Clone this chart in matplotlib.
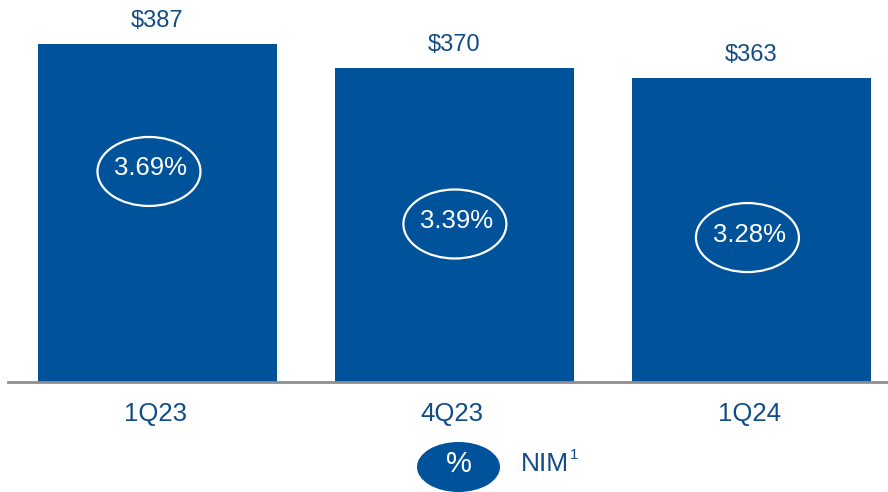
import matplotlib
matplotlib.use("Agg")
import matplotlib.pyplot as plt
from matplotlib.patches import Ellipse

plt.rcParams['font.family'] = ['Liberation Sans', 'DejaVu Sans']

# Net interest income ($M) and net interest margin by quarter
quarters = ["1Q23", "4Q23", "1Q24"]
nii = [387, 370, 363]
nim = [3.69, 3.39, 3.28]

# vertical placement of the NIM badges (data units) and small x nudges
badge_y = [296.7, 259.5, 249.9]
badge_dx = [-0.027, 0.003, -0.012]

BAR = "#00529B"
TEXT = "#124C86"
AXIS = "#8E8E8E"

W, H = 888, 492
fig = plt.figure(figsize=(W / 100, H / 100), dpi=100)
fig.patch.set_facecolor("white")

base_px = 382
ax = fig.add_axes([8 / W, (H - base_px) / H, 1 - 8 / W, base_px / H])
x = list(range(len(quarters)))
ax.bar(x, nii, width=239 / 297, color=BAR, zorder=2)

ymin = 147.6
ax.set_ylim(ymin, ymin + base_px / 1.412)
ax.set_xlim(-149 / 297, 2 + 137 / 297)

for s in ["top", "right", "left"]:
    ax.spines[s].set_visible(False)
ax.spines["bottom"].set_color(AXIS)
ax.spines["bottom"].set_linewidth(2)
ax.spines["bottom"].set_zorder(3)
ax.set_xticks([])
ax.set_yticks([])

for i, (q, v, p) in enumerate(zip(quarters, nii, nim)):
    ax.annotate(f"${v}", xy=(i, v), xytext=(0, 23 * 0.72), textcoords="offset points",
                ha="center", va="center", fontsize=17, color=TEXT)
    ax.annotate(q, xy=(i, 0), xycoords=("data", "axes fraction"),
                xytext=(-2 * 0.72, -32 * 0.72), textcoords="offset points",
                ha="center", va="center", fontsize=18.5, color=TEXT)
    cx = i + badge_dx[i]
    ax.add_patch(Ellipse((cx, badge_y[i]), 103 / 297, 69 / 1.412, facecolor="none",
                         edgecolor="white", linewidth=1.6, zorder=4))
    ax.text(cx + 2 / 297, badge_y[i] + 3 / 1.412, f"{p:.2f}%", ha="center", va="center",
            fontsize=18.5, color="white", zorder=5)

# legend row below the axis, laid out in pixel coordinates
lax = fig.add_axes([0, 0, 1, 1])
lax.set_xlim(0, W)
lax.set_ylim(H, 0)
lax.axis("off")
lax.patch.set_alpha(0)
lax.add_patch(Ellipse((458.5, 467), 83, 50, facecolor=BAR, edgecolor="none"))
lax.text(459, 464, "%", ha="center", va="center", fontsize=21, color="white")
lax.text(521, 464, "NIM", ha="left", va="center", fontsize=19, color=TEXT)
lax.text(570, 455, "1", ha="left", va="center", fontsize=11, color=TEXT)

fig.savefig("out.png", dpi=100, facecolor="white")
